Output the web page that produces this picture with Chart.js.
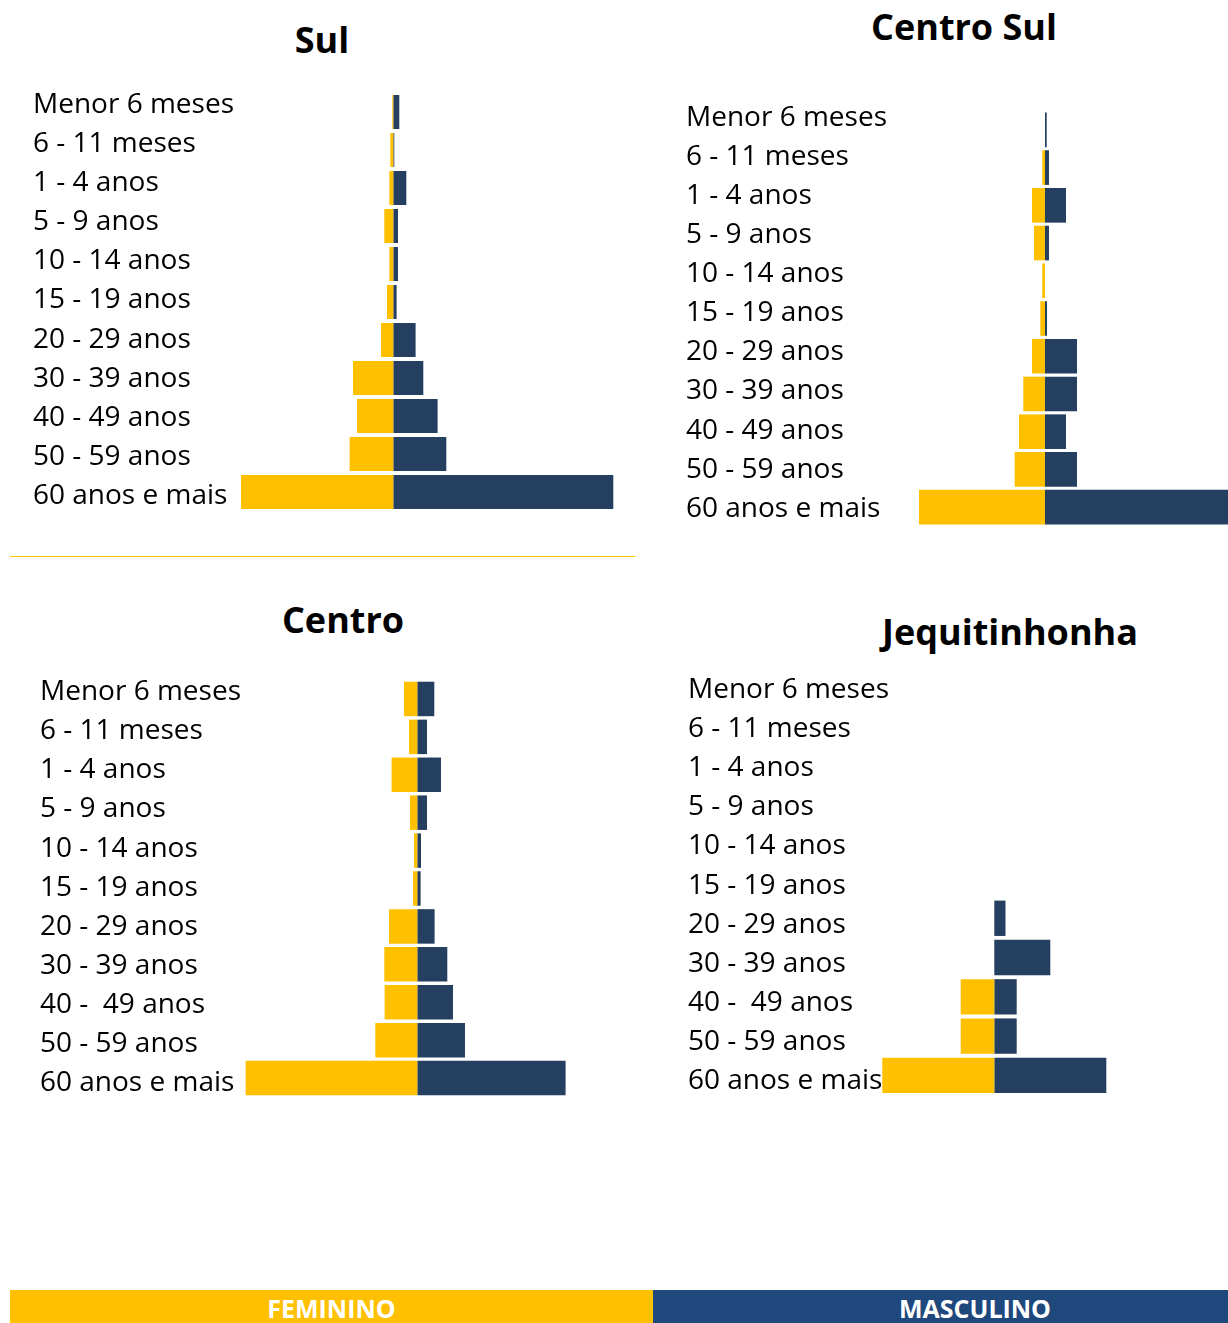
<!DOCTYPE html>
<html lang="pt-BR">
<head>
<meta charset="utf-8">
<title>Pirâmides etárias por macrorregião</title>
<script src="https://cdn.jsdelivr.net/npm/chart.js@4.4.0/dist/chart.umd.min.js"></script>
<style>
  html, body { margin: 0; padding: 0; background: #fff; }
  body { position: relative; width: 1228px; height: 1323px; overflow: hidden; font-family: "Open Sans", sans-serif; }
  canvas.painel { position: absolute; }
  .titulo { position: absolute; font-weight: 700; font-size: 36px; line-height: 36px; color: #000; white-space: nowrap; transform: translate(-50%, -50%); }
  .divisor { position: absolute; left: 10px; top: 556px; width: 625px; height: 1px; background: #FFC000; }
  .faixa { position: absolute; top: 1290px; height: 40px; overflow: hidden; }
  .faixa span { position: absolute; left: 0; right: 0; top: 6px; text-align: center; color: #fff; font-weight: 700; font-size: 25px; line-height: 24px; }
</style>
</head>
<body>

<div class="titulo" style="left:322px; top:40px;">Sul</div>
<div class="titulo" style="left:964px; top:27px;">Centro Sul</div>
<div class="titulo" style="left:343px; top:620px;">Centro</div>
<div class="titulo" style="left:1010px; top:632px;">Jequitinhonha</div>

<canvas class="painel" id="sul"></canvas>
<canvas class="painel" id="centroSul"></canvas>
<canvas class="painel" id="centro"></canvas>
<canvas class="painel" id="jequitinhonha"></canvas>

<div class="divisor"></div>

<div class="faixa" style="left:10px; width:643px; background:#FFC000;"><span>FEMININO</span></div>
<div class="faixa" style="left:653px; width:644px; background:#1F487C;"><span>MASCULINO</span></div>

<script>
// Faixas etárias (eixo vertical de cada pirâmide)
const faixasEtarias = ['Menor 6 meses', '6 - 11 meses', '1 - 4 anos', '5 - 9 anos', '10 - 14 anos', '15 - 19 anos',
  '20 - 29 anos', '30 - 39 anos', '40 - 49 anos', '50 - 59 anos', '60 anos e mais'];
const faixasEtariasB = ['Menor 6 meses', '6 - 11 meses', '1 - 4 anos', '5 - 9 anos', '10 - 14 anos', '15 - 19 anos',
  '20 - 29 anos', '30 - 39 anos', '40 -  49 anos', '50 - 59 anos', '60 anos e mais'];

// Sul
const sulFeminino  = [1, 3, 4, 9, 4, 6.3, 12.3, 40.3, 36.3, 43.7, 152.3];
const sulMasculino = [6, 1, 13, 4.7, 4.7, 3.3, 22.3, 30, 44.3, 53, 220];

// Centro Sul
const centroSulFeminino  = [0, 2.7, 13, 11, 2.7, 4.7, 13, 21.7, 26, 30.3, 126];
const centroSulMasculino = [1.7, 4, 21, 4, 0, 2, 32, 32, 21, 32, 190];

// Centro
const centroFeminino  = [13.3, 8.3, 25.7, 7.3, 3.3, 4.3, 28.3, 33, 32.7, 42, 171.7];
const centroMasculino = [17, 9.7, 23.7, 9.7, 3.7, 3.3, 17.3, 30, 35.7, 47.7, 148.3];

// Jequitinhonha
const jequitinhonhaFeminino  = [0, 0, 0, 0, 0, 0, 0, 0, 3, 3, 10];
const jequitinhonhaMasculino = [0, 0, 0, 0, 0, 0, 1, 5, 2, 2, 10];

const AMARELO = '#FFC000';
const AZUL = '#253F61';
const PAD_V = 30;

// Posição de cada painel na página e escala horizontal (pixels por unidade)
const paineis = [
  { id: 'sul', rotulos: faixasEtarias, fem: sulFeminino, masc: sulMasculino,
    left: 33, right: 640, areaTop: 93, areaBottom: 511,
    zeroX: 393.3, pxPorUnidade: 1, rotuloTopo: 105, rotuloPasso: 39.1, espessura: 0.895 },
  { id: 'centroSul', rotulos: faixasEtarias, fem: centroSulFeminino, masc: centroSulMasculino,
    left: 686, right: 1228, areaTop: 111.2, areaBottom: 525.9,
    zeroX: 1045, pxPorUnidade: 1, rotuloTopo: 118, rotuloPasso: 39.1, espessura: 0.918 },
  { id: 'centro', rotulos: faixasEtariasB, fem: centroFeminino, masc: centroMasculino,
    left: 40, right: 640, areaTop: 679.8, areaBottom: 1096.7,
    zeroX: 417.3, pxPorUnidade: 1, rotuloTopo: 692, rotuloPasso: 39.1, espessura: 0.91 },
  { id: 'jequitinhonha', rotulos: faixasEtariasB, fem: jequitinhonhaFeminino, masc: jequitinhonhaMasculino,
    left: 688, right: 1228, areaTop: 662.9, areaBottom: 1094.7,
    zeroX: 994.3, pxPorUnidade: 11.2, rotuloTopo: 690, rotuloPasso: 39.1, espessura: 0.9 }
];

paineis.forEach(p => {
  const canvas = document.getElementById(p.id);
  const largura = Math.round(p.right - p.left);
  const altura = Math.round(p.areaBottom - p.areaTop) + 2 * PAD_V;
  canvas.width = largura;
  canvas.height = altura;
  canvas.style.left = p.left + 'px';
  canvas.style.top = (p.areaTop - PAD_V) + 'px';
  canvas.style.width = largura + 'px';
  canvas.style.height = altura + 'px';

  const areaAltura = altura - 2 * PAD_V;
  const xMin = -(p.zeroX - p.left) / p.pxPorUnidade;
  const xMax = (p.left + largura - p.zeroX) / p.pxPorUnidade;
  const rotMin = -(p.rotuloTopo - p.areaTop) / p.rotuloPasso;
  const rotMax = (p.areaTop + areaAltura - p.rotuloTopo) / p.rotuloPasso;

  new Chart(canvas.getContext('2d'), {
    type: 'bar',
    data: {
      labels: p.rotulos,
      datasets: [
        { label: 'Feminino', data: p.fem.map(v => -v), backgroundColor: AMARELO, xAxisID: 'x', yAxisID: 'y' },
        { label: 'Masculino', data: p.masc, backgroundColor: AZUL, xAxisID: 'x', yAxisID: 'y' }
      ]
    },
    options: {
      indexAxis: 'y',
      responsive: false,
      maintainAspectRatio: false,
      animation: false,
      events: [],
      layout: { padding: { top: PAD_V, bottom: PAD_V, left: 0, right: 0 } },
      plugins: { legend: { display: false }, tooltip: { enabled: false } },
      datasets: { bar: { barPercentage: p.espessura, categoryPercentage: 1, borderWidth: 0 } },
      scales: {
        x: { type: 'linear', stacked: true, min: xMin, max: xMax, display: false },
        y: { type: 'category', stacked: true, display: false },
        // eixo só de rótulos: posiciona cada faixa etária no seu próprio passo vertical
        faixas: {
          type: 'linear', axis: 'y', position: 'left', reverse: true, offset: false,
          min: rotMin, max: rotMax,
          grid: { display: false, drawTicks: false, offset: false }, border: { display: false },
          afterBuildTicks: eixo => { eixo.ticks = p.rotulos.map((_, i) => ({ value: i })); },
          afterFit: eixo => { eixo.width = 0; },
          ticks: {
            autoSkip: false, mirror: true, crossAlign: 'near', padding: 0, color: '#000',
            font: { family: '"Open Sans", sans-serif', size: 28 },
            callback: v => p.rotulos[v]
          }
        }
      }
    }
  });
});
</script>
</body>
</html>
